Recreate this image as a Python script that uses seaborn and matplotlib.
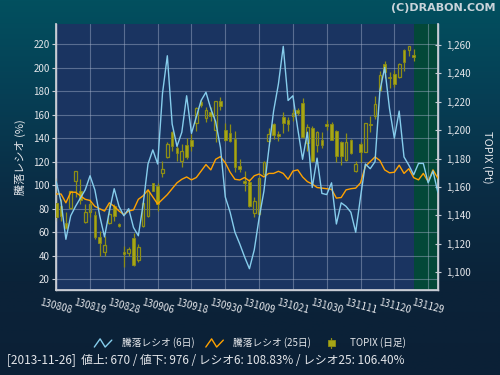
import numpy as np
import pandas as pd
import matplotlib
matplotlib.use("Agg")
import matplotlib.pyplot as plt
import seaborn as sns
from matplotlib.legend_handler import HandlerBase
from matplotlib.lines import Line2D
from matplotlib.patches import Rectangle
from matplotlib.ticker import FuncFormatter
from matplotlib.colors import LinearSegmentedColormap

sns.set_theme(style="dark")
plt.rcParams['font.family'] = ['Noto Sans CJK JP', 'DejaVu Sans']

# ---------------- data ----------------
tick_labels = ["130808", "130819", "130828", "130906", "130918", "130930",
               "131009", "131021", "131030", "131111", "131120", "131129"]
tick_days = [0, 7, 14, 21, 28, 35, 42, 49, 56, 63, 70, 77]

ratio6 = [103, 86, 54, 74, 82, 89, 96, 108, 96, 74, 56, 78, 97, 82, 74, 80, 64, 57, 84, 118,
          130, 118, 178, 210, 152, 133, 145, 176, 144, 158, 172, 179, 165, 154, 132, 90, 77, 60, 50, 39,
          29, 45, 72, 95, 130, 163, 186, 218, 172, 176, 148, 122, 145, 98, 123, 93, 92, 102, 67, 85,
          82, 77, 60, 90, 118, 114, 120, 180, 200, 165, 140, 163, 124, 117, 108.83, 118.5, 118.5, 102, 112, 94]
ratio25 = [92.5, 92.5, 85, 94, 94, 91, 88, 87, 82, 80, 78, 85, 82, 78, 75, 78, 79, 88, 91, 96,
           90, 84, 88, 92, 97, 102, 105, 107, 104.5, 106.5, 112, 117.5, 113, 122, 124.3, 119, 111, 105, 104.4, 106.5,
           103.5, 108, 109.5, 107, 110, 110, 111.8, 110, 105, 112, 113, 107, 103, 101, 98, 97.5, 97, 96.5, 89, 89.5,
           96, 97, 97.5, 102, 116, 120, 124, 121, 113, 110.5, 111, 117, 110, 114, 106.4, 104.5, 110, 103, 113, 106]

topix_open = [1148.8, 1146.9, 1134.5, 1145.3, 1164.1, 1157.0, 1135.7, 1142.2, 1140.4, 1125.1,
              1114.5, 1134.7, 1146.5, 1134.0, 1114.1, 1113.6, 1123.9, 1108.7, 1132.4, 1139.9,
              1162.6, 1160.5, 1169.7, 1180.9, 1198.5, 1187.5, 1178.6, 1189.9, 1193.1, 1205.1,
              1220.1, 1208.4, 1212.9, 1200.4, 1220.4, 1200.2, 1198.1, 1193.9, 1174.6, 1164.5,
              1163.8, 1141.8, 1141.1, 1169.2, 1192.2, 1204.4, 1197.4, 1209.1, 1207.2, 1209.8,
              1214.3, 1219.2, 1190.8, 1201.6, 1189.9, 1193.1, 1204.4, 1204.4, 1199.2, 1192.0,
              1179.1, 1193.1, 1171.1, 1190.3, 1184.9, 1204.6, 1210.3, 1228.6, 1246.6, 1237.7,
              1239.6, 1237.2, 1256.5, 1256.5, 1253.0]
topix_high = [1166.2, 1151.6, 1142.2, 1157.5, 1171.5, 1165.7, 1148.1, 1151.6, 1143.4, 1129.3,
              1125.8, 1148.1, 1148.1, 1134.5, 1118.8, 1117.6, 1127.7, 1119.9, 1150.4, 1158.7,
              1162.9, 1162.6, 1178.6, 1191.5, 1199.7, 1189.2, 1190.3, 1194.6, 1197.4, 1216.1,
              1222.0, 1216.1, 1216.1, 1220.8, 1223.2, 1205.1, 1204.4, 1199.2, 1179.8, 1171.1,
              1165.7, 1152.8, 1166.9, 1178.6, 1201.6, 1205.1, 1199.7, 1212.6, 1209.6, 1215.0,
              1215.7, 1222.7, 1204.4, 1203.2, 1199.2, 1198.5, 1207.2, 1205.6, 1200.2, 1192.7,
              1197.8, 1193.6, 1178.6, 1191.5, 1205.4, 1209.8, 1224.4, 1241.9, 1249.0, 1240.8,
              1242.4, 1247.1, 1257.2, 1259.5, 1257.2]
topix_low = [1136.4, 1135.9, 1130.5, 1144.6, 1152.8, 1148.1, 1134.5, 1138.7, 1123.5, 1111.3,
             1111.7, 1134.0, 1135.9, 1131.7, 1103.5, 1111.7, 1104.2, 1107.0, 1132.1, 1139.2,
             1157.0, 1142.9, 1166.9, 1180.2, 1185.6, 1178.6, 1173.9, 1179.8, 1185.2, 1199.2,
             1216.1, 1206.0, 1206.3, 1191.5, 1214.3, 1192.2, 1191.5, 1170.4, 1170.4, 1157.5,
             1146.2, 1138.7, 1140.4, 1168.0, 1191.5, 1193.9, 1192.7, 1198.1, 1199.7, 1206.8,
             1211.0, 1194.3, 1185.6, 1177.4, 1184.5, 1187.5, 1200.2, 1193.1, 1177.4, 1175.8,
             1178.1, 1183.3, 1170.4, 1177.4, 1184.7, 1199.0, 1207.9, 1227.9, 1236.8, 1229.7,
             1230.7, 1236.5, 1241.9, 1252.5, 1249.0]
topix_close = [1139.2, 1139.9, 1131.2, 1157.0, 1171.3, 1151.1, 1142.2, 1148.1, 1124.6, 1120.6,
               1119.2, 1141.1, 1139.4, 1132.4, 1112.9, 1116.4, 1105.4, 1117.6, 1148.6, 1157.5,
               1157.5, 1148.1, 1172.5, 1190.3, 1188.7, 1183.8, 1185.6, 1180.9, 1188.7, 1215.4,
               1218.0, 1214.5, 1210.3, 1220.4, 1217.3, 1193.4, 1192.7, 1174.4, 1173.0, 1162.6,
               1146.9, 1150.0, 1166.4, 1177.9, 1197.4, 1196.9, 1195.7, 1205.1, 1204.4, 1212.2,
               1211.9, 1195.0, 1202.5, 1178.1, 1198.5, 1189.9, 1202.7, 1193.4, 1182.1, 1182.1,
               1191.5, 1183.7, 1176.3, 1184.9, 1204.9, 1203.5, 1218.5, 1238.9, 1241.2, 1236.5,
               1232.5, 1246.6, 1248.3, 1259.1, 1251.8]

legend_labels = ["騰落レシオ (6日)", "騰落レシオ (25日)", "TOPIX (日足)"]
status_text = "[2013-11-26]  値上: 670 / 値下: 976 / レシオ6: 108.83% / レシオ25: 106.40%"
copyright_text = "(C)DRABON.COM"

# ---------------- colours ----------------
C_CYAN = "#86cdec"
C_ORANGE = "#ffa200"
C_FILL = "#a6a616"
C_EDGE = "#8e8e14"
C_PLOT = "#1a3461"
C_GREEN = "#034838"
C_TEXT = "#e4e6ea"
C_SPINE = "#c8ccd4"

W, H = 500, 375
fig = plt.figure(figsize=(5, 3.75), dpi=100)

# background gradient
bg = fig.add_axes([0, 0, 1, 1])
bg.axis("off")
grad = np.linspace(0, 1, 256).reshape(-1, 1)
cmap = LinearSegmentedColormap.from_list("bg", ["#02505f", "#063f55", "#0a2d45", "#0b2339", "#0b2036"])
bg.imshow(grad, aspect="auto", cmap=cmap, extent=[0, 1, 0, 1], origin="upper")
bg.set_zorder(-10)

L, R, T, B = 55.5, 438.3, 24, 290
ax = fig.add_axes([L / W, 1 - B / H, (R - L) / W, (B - T) / H])
ax.set_facecolor(C_PLOT)
ax.set_xlim(-0.15, 79.1)
ax.set_ylim(10.9, 237.0)
ax.axvspan(74.1, 79.1, color=C_GREEN, zorder=0.2, lw=0)
ax.set_axisbelow(True)
ax.grid(True, color="#a8b4cc", alpha=0.45, lw=0.8)
ax.set_yticks(np.arange(20, 221, 20))
ax.set_xticks(tick_days)
ax.set_xticklabels(tick_labels, rotation=-15, ha="center", va="top")
ax.tick_params(axis="y", direction="out", length=3, width=0.8, color=C_SPINE,
               labelsize=7, labelcolor=C_TEXT, pad=1)
ax.tick_params(axis="x", direction="out", length=4, width=0.8, color=C_SPINE,
               labelsize=7, labelcolor=C_TEXT, pad=1)
ax.set_ylabel("騰落レシオ (%)", color=C_TEXT, fontsize=8, labelpad=5)
for s in ["left", "right", "bottom"]:
    ax.spines[s].set_color(C_SPINE)
    ax.spines[s].set_linewidth(1.0)
    ax.spines[s].set_visible(True)
ax.spines["top"].set_visible(False)

# TOPIX candles on right axis
ax2 = ax.twinx()
ax2.set_ylim(1087.5, 1274.8)
ax2.set_yticks(np.arange(1100, 1261, 20))
ax2.yaxis.set_major_formatter(FuncFormatter(lambda v, p: f"{v:,.0f}"))
ax2.tick_params(axis="y", direction="inout", length=5, width=0.8, color=C_SPINE,
                labelsize=7, labelcolor=C_TEXT, pad=3)
ax2.set_ylabel("TOPIX (Pt)", color=C_TEXT, fontsize=8, rotation=270, va="bottom", labelpad=8)
ax2.grid(False)
for s in ["left", "right", "bottom"]:
    ax2.spines[s].set_color(C_SPINE)
ax2.spines["top"].set_visible(False)

o = np.array(topix_open); h = np.array(topix_high)
l = np.array(topix_low); c = np.array(topix_close)
xi = np.arange(len(o))
up = c >= o
body_lo = np.minimum(o, c); body_hi = np.maximum(o, c)
ax2.vlines(xi, l, body_lo, color=C_EDGE, lw=0.9, zorder=2)
ax2.vlines(xi, body_hi, h, color=C_EDGE, lw=0.9, zorder=2)
ax2.bar(xi[~up], (body_hi - body_lo)[~up], bottom=body_lo[~up], width=0.55,
        color=C_FILL, edgecolor=C_EDGE, lw=0.6, zorder=3)
ax2.bar(xi[up], (body_hi - body_lo)[up], bottom=body_lo[up], width=0.55,
        facecolor="none", edgecolor=C_EDGE, lw=0.9, zorder=3)

# ratio lines on top
ax3 = ax.twinx()
ax3.set_ylim(ax.get_ylim())
ax3.set_yticks([])
for s in ax3.spines.values():
    s.set_visible(False)
ax3.grid(False)
df = pd.DataFrame({
    "day": list(range(len(ratio6))) + list(range(len(ratio25))),
    "value": ratio6 + ratio25,
    "series": [legend_labels[0]] * len(ratio6) + [legend_labels[1]] * len(ratio25),
})
sns.lineplot(data=df, x="day", y="value", hue="series",
             palette={legend_labels[0]: C_CYAN, legend_labels[1]: C_ORANGE},
             hue_order=[legend_labels[1], legend_labels[0]],
             lw=1.0, legend=False, ax=ax3)
ax3.set_xlim(-0.15, 79.1)
ax3.set_ylabel("")
ax3.set_xlabel("")
ax.set_xlabel("")


# ---------------- legend ----------------
class ZigZagHandler(HandlerBase):
    def create_artists(self, legend, orig_handle, xdescent, ydescent, width, height, fontsize, trans):
        xs = np.array([0.0, 0.33, 0.62, 1.0]) * width - xdescent
        ys = np.array([0.0, 1.0, 0.0, 0.85]) * height * 1.2 - ydescent - 0.1 * height
        ln = Line2D(xs, ys, color=orig_handle.get_color(), lw=1.0, transform=trans)
        return [ln]


class CandleHandler(HandlerBase):
    def create_artists(self, legend, orig_handle, xdescent, ydescent, width, height, fontsize, trans):
        cx = width * 0.5 - xdescent
        wick = Line2D([cx, cx], [-ydescent - 0.3 * height, -ydescent + 1.3 * height],
                      color=C_EDGE, lw=0.9, transform=trans)
        body = Rectangle((cx - 2.5, -ydescent), 5, height, facecolor=C_FILL,
                         edgecolor=C_EDGE, lw=0.6, transform=trans)
        return [wick, body]


h1 = Line2D([], [], color=C_CYAN)
h2 = Line2D([], [], color=C_ORANGE)
h3 = Rectangle((0, 0), 1, 1)
leg = fig.legend([h1, h2, h3], legend_labels, loc="center", bbox_to_anchor=(0.5, 1 - 343 / H),
                 ncol=3, frameon=False, fontsize=7, handlelength=1.8, handletextpad=1.0,
                 columnspacing=1.2,
                 handler_map={h1: ZigZagHandler(), h2: ZigZagHandler(), h3: CandleHandler()})
for t in leg.get_texts():
    t.set_color(C_TEXT)

fig.text(7 / W, 1 - 361 / H, status_text, fontsize=8.5, color=C_TEXT, ha="left", va="center")
fig.text(496 / W, 1 - 8 / H, copyright_text, fontsize=8, fontweight="bold", color="#c9d3da",
         ha="right", va="center", family="DejaVu Sans")

fig.savefig("out.png", dpi=100)
